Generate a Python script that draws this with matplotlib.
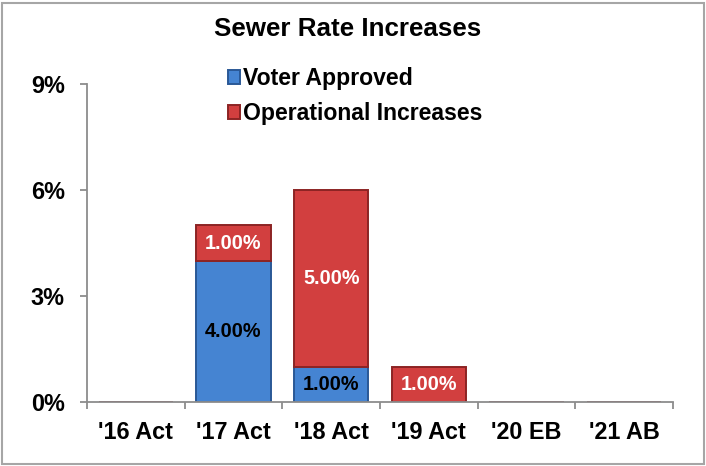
import numpy as np
import matplotlib
matplotlib.use("Agg")
import matplotlib.pyplot as plt
from matplotlib.patches import Rectangle

plt.rcParams['font.family'] = ['Liberation Sans', 'DejaVu Sans']
plt.rcParams['font.weight'] = 'bold'

# Data
categories = ["'16 Act", "'17 Act", "'18 Act", "'19 Act", "'20 EB", "'21 AB"]
voter_approved = [0, 4, 1, 0, 0, 0]
operational = [0, 1, 5, 1, 0, 0]
y_ticks = [0, 3, 6, 9]

blue = '#4584d2'
blue_edge = '#2a5896'
red = '#d23f3f'
red_edge = '#8c2424'

fig = plt.figure(figsize=(7.06, 4.66), dpi=100)
ax = fig.add_axes([87 / 706, 64 / 466, 586 / 706, 318 / 466])

x = np.arange(len(categories))
b1 = ax.bar(x, voter_approved, width=0.76, color=blue, edgecolor=blue_edge,
            linewidth=1.4, label='Voter Approved')
b2 = ax.bar(x, operational, width=0.76, bottom=voter_approved, color=red,
            edgecolor=red_edge, linewidth=1.4, label='Operational Increases')

# Value labels in the middle of each non-empty segment
for i in range(len(categories)):
    if voter_approved[i] > 0:
        ax.text(x[i], voter_approved[i] / 2, f'{voter_approved[i]:.2f}%',
                ha='center', va='center', fontsize=14.3, color='black',
                fontweight='bold')
    if operational[i] > 0:
        ax.text(x[i], voter_approved[i] + operational[i] / 2,
                f'{operational[i]:.2f}%', ha='center', va='center',
                fontsize=14.3, color='white', fontweight='bold')

ax.set_xlim(-0.5, len(categories) - 0.5)
ax.set_ylim(0, 9)
ax.set_yticks(y_ticks)
ax.set_yticklabels([f'{v}%' for v in y_ticks])
ax.set_xticks(x)
ax.set_xticklabels(categories)
ax.set_xticks(np.arange(len(categories) + 1) - 0.5, minor=True)

for s in ['top', 'right']:
    ax.spines[s].set_visible(False)
for s in ['left', 'bottom']:
    ax.spines[s].set_color('#8c8c8c')
    ax.spines[s].set_linewidth(1.3)

ax.tick_params(axis='y', length=5, width=1.3, color='#8c8c8c', pad=11,
               labelsize=16.8)
ax.tick_params(axis='x', which='major', length=0, pad=14, labelsize=16.8)
ax.tick_params(axis='x', which='minor', length=5, width=1.3, color='#8c8c8c')

fig.text(348 / 706, 1 - 29 / 466, 'Sewer Rate Increases', ha='center',
         va='center', fontsize=18.7, fontweight='bold')

leg = fig.legend(handles=[b1, b2], loc='upper left',
                 bbox_to_anchor=(228 / 706, 1 - 67 / 466), frameon=False,
                 fontsize=16.6, handlelength=0.52, handleheight=0.52,
                 handletextpad=0.15, labelspacing=0.52,
                 borderpad=0, borderaxespad=0)
for t in leg.get_texts():
    t.set_fontweight('bold')

# light gray border round the chart
fig.patches.append(Rectangle((0.003, 0.004), 0.994, 0.99,
                             transform=fig.transFigure, fill=False,
                             edgecolor='#a6a6a6', linewidth=1.5))

fig.savefig('out.png', dpi=100)
